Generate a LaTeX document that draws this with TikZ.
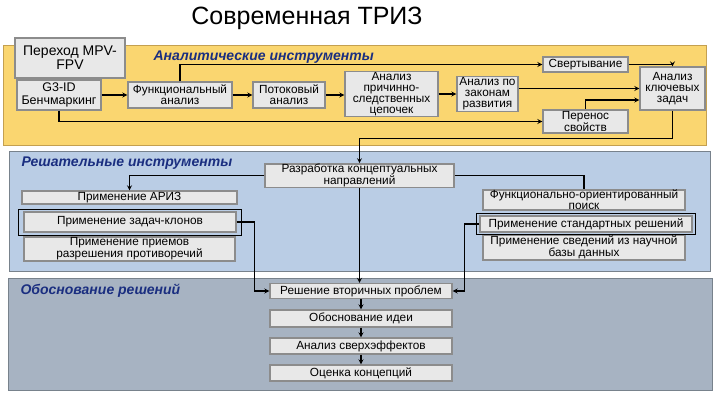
\documentclass[tikz,border=0pt]{standalone}
\usepackage{fontspec}
\setmainfont{Liberation Sans}
\definecolor{panelyellow}{RGB}{250,214,112}
\definecolor{yellowedge}{RGB}{196,160,80}
\definecolor{panelblue}{RGB}{186,205,229}
\definecolor{panelgray}{RGB}{167,179,194}
\definecolor{paneledge}{RGB}{120,130,140}
\definecolor{boxfill}{RGB}{232,232,232}
\definecolor{boxedge}{RGB}{140,140,140}
\definecolor{headblue}{RGB}{26,46,128}
\begin{document}
\begin{tikzpicture}[x=1pt, y=-1pt, >=stealth,
  box/.style={draw=boxedge, fill=boxfill, line width=1.3pt, inner sep=1pt, align=center, font=\fontsize{11.8}{11}\selectfont},
  heading/.style={anchor=west, font=\fontsize{14}{14}\selectfont\bfseries\itshape, text=headblue},
  link/.style={->, line width=1.2pt},
  selframe/.style={line width=0.7pt}]
\useasboundingbox[fill=white] (0,0) rectangle (720,405);
\filldraw[fill=panelyellow, draw=yellowedge, line width=0.8pt] (3,45) rectangle (706,145);
\filldraw[fill=panelblue, draw=paneledge, line width=0.8pt] (9,151) rectangle (710,271);
\filldraw[fill=panelgray, draw=paneledge, line width=0.8pt] (8,278) rectangle (712,390);

\node[font=\fontsize{25}{25}\selectfont] (title) at (307,18) {Современная ТРИЗ};

\node[heading] (analyt) at (150,57) {Аналитические инструменты};
\node[heading] (solve) at (18,163) {Решательные инструменты};
\node[heading] (justify) at (17,291) {Обоснование решений};

\node[box, minimum width=110, minimum height=40, font=\fontsize{14}{14}\selectfont] (mpv) at (70,58) {Переход MPV-\\FPV};
\node[box, minimum width=84, minimum height=30, font=\fontsize{12.5}{13}\selectfont] (gid) at (59,95) {G3-ID\\Бенчмаркинг};
\node[box, minimum width=104, minimum height=26] (func) at (180,95) {Функциональный\\анализ};
\node[box, minimum width=72, minimum height=26] (flow) at (289,95) {Потоковый\\анализ};
\node[box, minimum width=93, minimum height=43] (cause) at (391.5,94) {Анализ\\причинно-\\следственных\\цепочек};
\node[box, minimum width=61, minimum height=35] (laws) at (487.5,94) {Анализ по\\законам\\развития};
\node[box, minimum width=85, minimum height=15] (svert) at (585.5,64.5) {Свертывание};
\node[box, minimum width=65, minimum height=43] (key) at (672.5,88.5) {Анализ\\ключевых\\задач};
\node[box, minimum width=85, minimum height=23] (perenos) at (585.5,121.5) {Перенос\\свойств};

\node[box, minimum width=189, minimum height=21, inner ysep=0pt] (razr) at (359.5,175.5) {Разработка концептуальных\\направлений};
\node[box, minimum width=215, minimum height=13, inner ysep=0pt] (ariz) at (129.5,197.5) {Применение АРИЗ};
\node[box, minimum width=212, minimum height=20] (klon) at (130,222) {Применение задач-клонов};
\node[box, minimum width=211, minimum height=24, inner ysep=0pt] (priem) at (129.5,249) {Применение приемов\\разрешения противоречий};
\node[box, minimum width=202, minimum height=20, inner ysep=0pt] (fop) at (584,200) {Функционально-ориентированный\\поиск};
\node[box, minimum width=212, minimum height=16] (std) at (586,224) {Применение стандартных решений};
\node[box, minimum width=202, minimum height=25, inner ysep=0pt] (nauch) at (584,247.5) {Применение сведений из научной\\базы данных};

\node[box, minimum width=182, minimum height=15] (reshen) at (361,291) {Решение вторичных проблем};
\node[box, minimum width=182, minimum height=17] (obosn) at (361,318.5) {Обоснование идеи};
\node[box, minimum width=182, minimum height=16] (sverh) at (361,346) {Анализ сверхэффектов};
\node[box, minimum width=182, minimum height=16] (ocenka) at (361,373) {Оценка концепций};

\draw[selframe] ([shift={(-5,-2)}]klon.north west) rectangle ([shift={(5,3)}]klon.south east);
\draw[selframe] ([shift={(-3,-2)}]std.north west) rectangle ([shift={(3,2)}]std.south east);

\draw[link] (gid) -- (func);
\draw[link] (func) -- (flow);
\draw[link] (flow.east) -- (flow.east -| cause.west);
\draw[link] (cause) -- (laws);
\draw[link] (laws.east |- key.west) -- (key.west);
\draw[link] (func.north) |- (svert.west);
\draw[link] (svert.east) -| (key.north);
\draw[link] (perenos.north) |- ([yshift=-11.5pt]key.west);
\draw[link] (gid.south) |- (perenos.west);
\draw[link] (key.south) -- ++(0,28) -| (razr.north);

\draw[link] (razr.west) -| (ariz.north);
\draw[line width=1.2pt] (razr.east) -| (fop.north);
\draw[link] (razr.south) -- (razr.south |- reshen.north);
\draw[link] (klon.east) -- ++(18,0) |- (reshen.west);
\draw[link] (std.west) -- ++(-15,0) |- (reshen.east);

\draw[link] (reshen) -- (obosn);
\draw[link] (obosn) -- (sverh);
\draw[link] (sverh) -- (ocenka);
\end{tikzpicture}
\end{document}
